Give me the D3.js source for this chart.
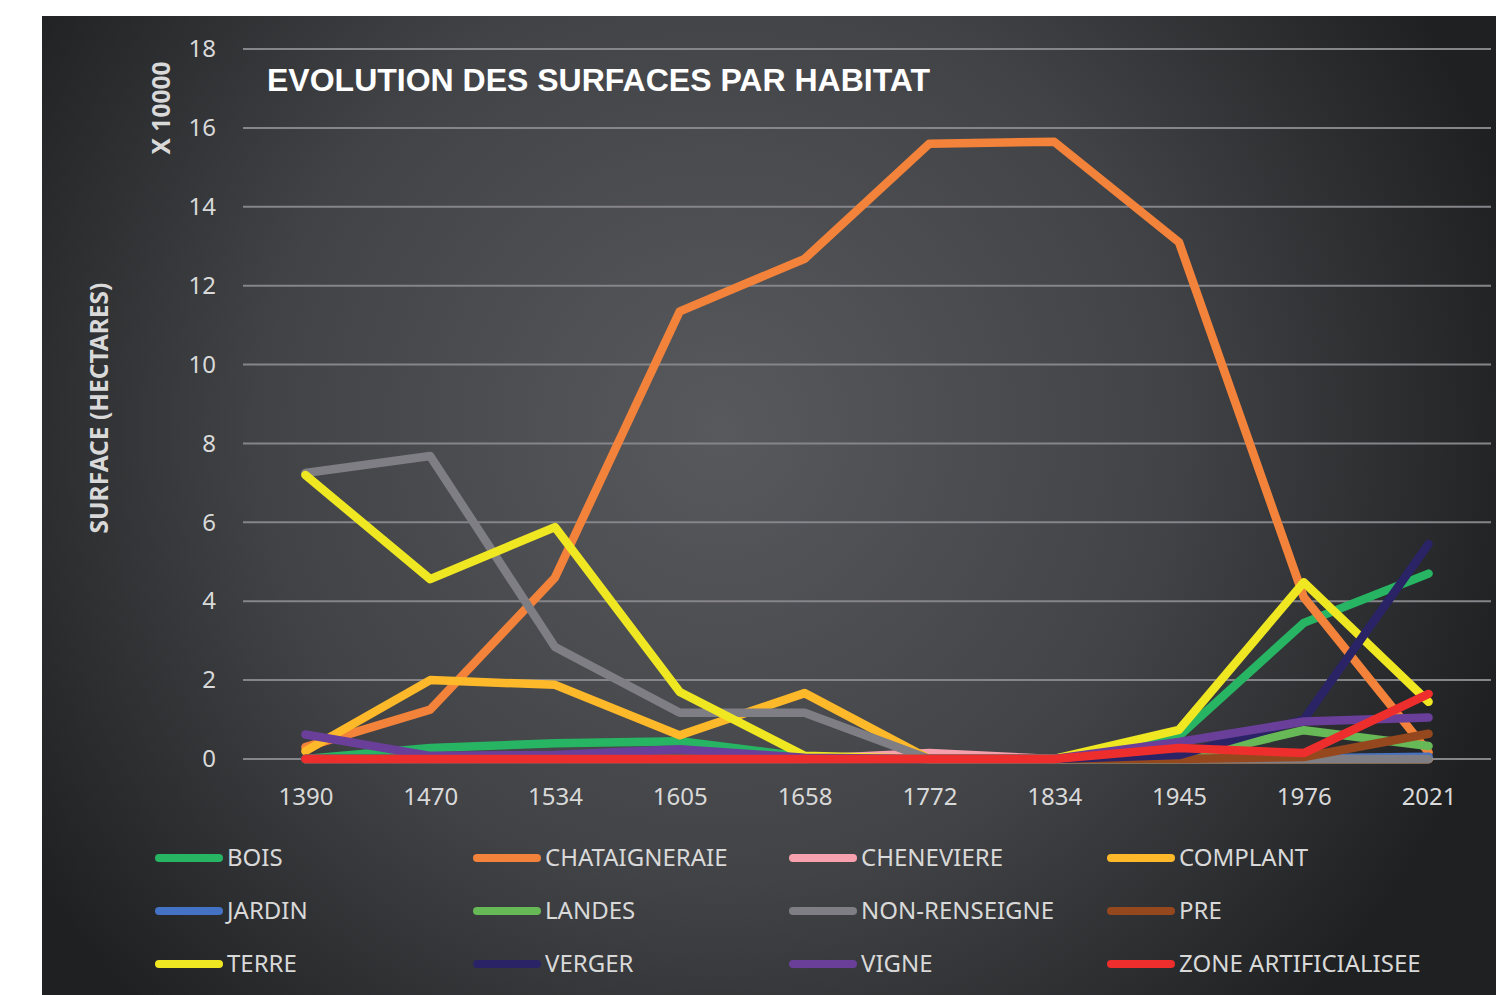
<!DOCTYPE html>
<html>
<head>
<meta charset="utf-8">
<script src="https://cdn.jsdelivr.net/npm/d3@7"></script>
<style>
  html, body { margin: 0; padding: 0; background: #fff; }
  svg { display: block; }
</style>
</head>
<body>
<div id="chart"></div>
<script>
// Years on the x axis
const years = ['1390', '1470', '1534', '1605', '1658', '1772', '1834', '1945', '1976', '2021'];

// Surface per habitat, in units of 10000 ha
const bois          = [0.00, 0.28, 0.40, 0.45, 0.05, 0.00, 0.00, 0.58, 3.45, 4.70];
const chataigneraie = [0.30, 1.25, 4.60, 11.35, 12.68, 15.60, 15.65, 13.10, 4.10, 0.17];
const cheneviere    = [0.00, 0.00, 0.00, 0.00, 0.00, 0.15, 0.00, 0.00, 0.00, 0.00];
const complant      = [0.20, 2.00, 1.88, 0.60, 1.67, 0.00, 0.00, 0.00, 0.00, 0.00];
const jardin        = [0.00, 0.00, 0.00, 0.00, 0.00, 0.00, 0.00, 0.00, 0.02, 0.06];
const landes        = [0.00, 0.00, 0.00, 0.00, 0.00, 0.00, 0.00, 0.00, 0.73, 0.33];
const nonRenseigne  = [7.25, 7.68, 2.84, 1.17, 1.17, 0.00, 0.00, 0.00, 0.00, 0.00];
const pre           = [0.00, 0.00, 0.00, 0.00, 0.00, 0.00, 0.00, 0.00, 0.05, 0.64];
const terre         = [7.20, 4.56, 5.88, 1.70, 0.08, 0.00, 0.00, 0.74, 4.48, 1.45];
const verger        = [0.00, 0.00, 0.00, 0.00, 0.00, 0.00, 0.00, 0.10, 1.00, 5.45];
const vigne         = [0.62, 0.08, 0.10, 0.25, 0.03, 0.00, 0.00, 0.43, 0.95, 1.05];
const zoneArtif     = [0.00, 0.00, 0.00, 0.00, 0.00, 0.00, 0.00, 0.28, 0.15, 1.65];

const seriesNames = ['BOIS', 'CHATAIGNERAIE', 'CHENEVIERE', 'COMPLANT', 'JARDIN', 'LANDES',
  'NON-RENSEIGNE', 'PRE', 'TERRE', 'VERGER', 'VIGNE', 'ZONE ARTIFICIALISEE'];
const seriesValues = [bois, chataigneraie, cheneviere, complant, jardin, landes,
  nonRenseigne, pre, terre, verger, vigne, zoneArtif];
const seriesColors = ['#27b463', '#f3823a', '#f7a1ae', '#fdb92a', '#4472c4', '#67b857',
  '#7f7e84', '#95481e', '#eee722', '#2a2466', '#6a3f99', '#ee2e2c'];

const yTicks = [0, 2, 4, 6, 8, 10, 12, 14, 16, 18];

const W = 1496, H = 995;
const FONT = '"Noto Sans", "Open Sans", sans-serif';

const svg = d3.select('#chart').append('svg')
    .attr('width', W)
    .attr('height', H);

// Background gradient
const defs = svg.append('defs');
const grad = defs.append('radialGradient')
    .attr('id', 'bg')
    .attr('gradientUnits', 'userSpaceOnUse')
    .attr('cx', 720).attr('cy', 430).attr('r', 820);
grad.append('stop').attr('offset', '0%').attr('stop-color', '#58595d');
grad.append('stop').attr('offset', '55%').attr('stop-color', '#414346');
grad.append('stop').attr('offset', '100%').attr('stop-color', '#1f2022');

svg.append('rect')
    .attr('x', 42).attr('y', 16)
    .attr('width', W - 42).attr('height', H - 16)
    .attr('fill', 'url(#bg)');

// Scales
const x = d3.scalePoint()
    .domain(years)
    .range([243, 1491])
    .padding(0.5);

const y = d3.scaleLinear()
    .domain([0, 18])
    .range([759, 49]);

// Gridlines
svg.append('g')
    .selectAll('line')
    .data(yTicks)
    .join('line')
    .attr('x1', 243)
    .attr('x2', 1491)
    .attr('y1', d => y(d))
    .attr('y2', d => y(d))
    .attr('stroke', '#85858a')
    .attr('stroke-width', 2);

// Y axis
const yAxis = svg.append('g')
    .attr('transform', 'translate(230,0)')
    .call(d3.axisLeft(y).tickValues(yTicks).tickSize(0).tickPadding(14));
yAxis.select('.domain').remove();
yAxis.selectAll('text')
    .attr('fill', '#d9d9d9')
    .style('font-family', FONT)
    .style('font-size', '24px');

// X axis
const xAxis = svg.append('g')
    .attr('transform', 'translate(0,786)')
    .call(d3.axisBottom(x).tickSize(0).tickPadding(2));
xAxis.select('.domain').remove();
xAxis.selectAll('text')
    .attr('fill', '#d9d9d9')
    .style('font-family', FONT)
    .style('font-size', '24px');

// Axis titles
svg.append('text')
    .attr('transform', 'translate(108,408) rotate(-90)')
    .attr('text-anchor', 'middle')
    .attr('fill', '#d9d9d9')
    .style('font-family', FONT)
    .style('font-size', '24.5px')
    .style('font-weight', 'bold')
    .text('SURFACE (HECTARES)');

svg.append('text')
    .attr('transform', 'translate(170,108) rotate(-90)')
    .attr('text-anchor', 'middle')
    .attr('fill', '#d9d9d9')
    .style('font-family', FONT)
    .style('font-size', '24.5px')
    .style('font-weight', 'bold')
    .text('X 10000');

// Title
svg.append('text')
    .attr('x', 267)
    .attr('y', 91)
    .attr('fill', '#ffffff')
    .style('font-family', '"Liberation Sans", Arial, sans-serif')
    .style('font-size', '32px')
    .style('font-weight', 'bold')
    .text('EVOLUTION DES SURFACES PAR HABITAT');

// Lines
const line = d3.line()
    .x((d, i) => x(years[i]))
    .y(d => y(d));

svg.append('g')
    .selectAll('path')
    .data(seriesValues)
    .join('path')
    .attr('d', line)
    .attr('fill', 'none')
    .attr('stroke', (d, i) => seriesColors[i])
    .attr('stroke-width', 8.5)
    .attr('stroke-linejoin', 'round')
    .attr('stroke-linecap', 'round');

// Legend
const legendCols = [155, 473, 789, 1107];
const legendRows = [858, 911, 964];

const legend = svg.append('g')
    .selectAll('g')
    .data(seriesNames)
    .join('g')
    .attr('transform', (d, i) => `translate(${legendCols[i % 4]},${legendRows[Math.floor(i / 4)]})`);

legend.append('line')
    .attr('x1', 4).attr('x2', 64)
    .attr('y1', 0).attr('y2', 0)
    .attr('stroke', (d, i) => seriesColors[i])
    .attr('stroke-width', 8)
    .attr('stroke-linecap', 'round');

legend.append('text')
    .attr('x', 72)
    .attr('y', 0)
    .attr('dy', '0.35em')
    .attr('fill', '#d9d9d9')
    .style('font-family', FONT)
    .style('font-size', '24px')
    .text(d => d);
</script>
</body>
</html>
